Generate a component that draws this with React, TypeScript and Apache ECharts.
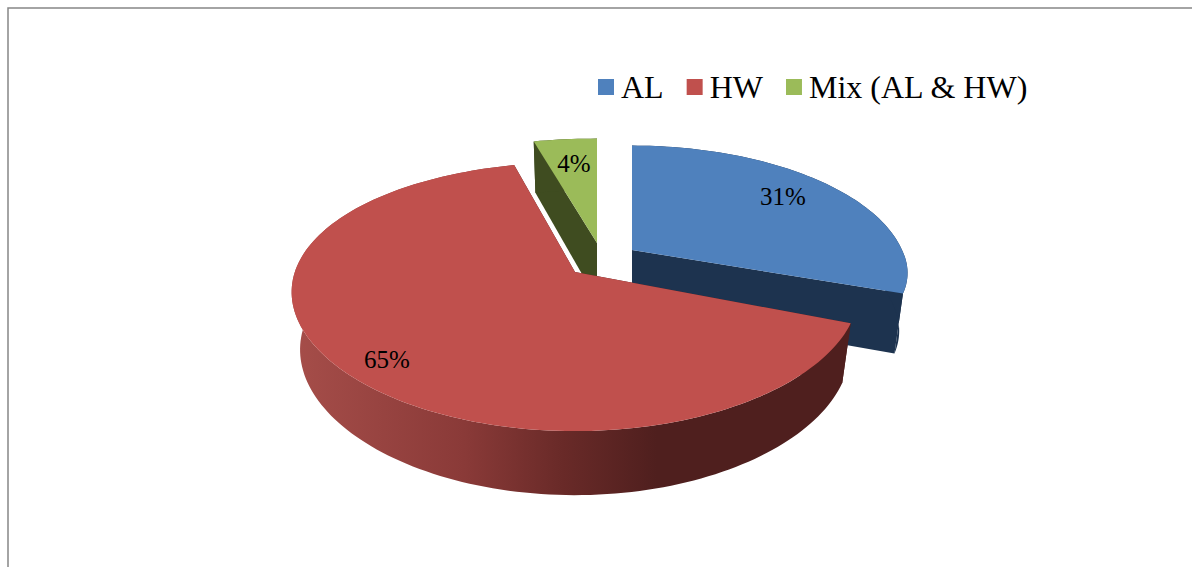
import React, { useEffect, useRef } from "react";
import * as echarts from "echarts";

const categories = ["AL", "HW", "Mix (AL & HW)"];
const shares = [31, 65, 4];
const topColors = ["#4f81bd", "#c0504d", "#9bbb59"];
const wallColors = ["#1d334f", "#4f1f1e", "#3f4c20"];
const sliceZ = [2, 3, 1];

// Where each slice's apex sits after being pulled out of the pie, and how
// its outline is squeezed on the far and near sides.
const apexX = [632, 575, 597];
const apexY = [250, 272, 243];
const flattenFar = [0.95, 1, 0.95];
const flattenNear = [0.85, 1, 1];
const widthScale = [0.954, 0.99, 1];
const perspX = [0.2, 0.15, 0.116];
const labelDx = [151, -188, -23];
const labelDy = [-54, 87, -80];

// Projection of the pie's unit disc onto the page.
const RX = 283;
const RY = 130;
const PERSP_Y = 0.183;
const DEPTH = 59;
const DEPTH_PERSP = 0.03;

const total = shares.reduce((a, b) => a + b, 0);
const startAngles = shares.map((_, i) =>
  (shares.slice(0, i).reduce((a, b) => a + b, 0) / total) * 360
);

function project(i: number, deg: number, r: number, h: number): number[] {
  const a = (deg * Math.PI) / 180;
  const X = Math.sin(a) * r;
  const Z = Math.cos(a) * r;
  const wx = 1 + perspX[i] * Z + DEPTH_PERSP * h;
  const wy = 1 + PERSP_Y * Z + DEPTH_PERSP * h;
  const zTerm = Z > 0 ? flattenFar[i] : flattenNear[i];
  return [
    apexX[i] + (RX * widthScale[i] * X) / wx,
    apexY[i] + (-RY * zTerm * Z + DEPTH * h) / wy,
  ];
}

function arc(i: number, from: number, to: number, h: number): number[][] {
  const n = Math.max(4, Math.ceil(Math.abs(to - from) / 1.5));
  const pts: number[][] = [];
  for (let k = 0; k <= n; k++) pts.push(project(i, from + ((to - from) * k) / n, 1, h));
  return pts;
}

function wallFill(i: number): any {
  if (i !== 1) return wallColors[i];
  return {
    type: "linear",
    global: true,
    x: 298,
    y: 0,
    x2: 850,
    y2: 0,
    colorStops: [
      { offset: 0, color: "#a54d49" },
      { offset: 0.3, color: "#8a3a38" },
      { offset: 0.48, color: "#692a28" },
      { offset: 0.65, color: "#4f1f1e" },
      { offset: 1, color: "#4f1f1e" },
    ],
  };
}

function renderSlice(i: number, api: any) {
  const share = api.value(0);
  const from = startAngles[i];
  const to = from + (share / total) * 360;
  const apexTop = project(i, 0, 0, 0);
  const apexBase = project(i, 0, 0, 1);
  const polygon = (points: number[][], fill: any) => ({
    type: "polygon",
    shape: { points },
    style: { fill },
    silent: true,
  });
  const face = (deg: number) =>
    polygon([apexTop, project(i, deg, 1, 0), project(i, deg, 1, 1), apexBase], wallColors[i]);
  const children: any[] = [
    face(from),
    face(to),
    polygon([...arc(i, from, to, 0), ...arc(i, to, from, 1)], wallFill(i)),
    polygon([apexTop, ...arc(i, from, to, 0)], topColors[i]),
    {
      type: "text",
      silent: true,
      style: {
        text: `${share}%`,
        x: apexTop[0] + labelDx[i],
        y: apexTop[1] + labelDy[i],
        fill: "#000",
        font: '25px "Liberation Serif"',
        align: "center",
        verticalAlign: "middle",
      },
    },
  ];
  return { type: "group", children };
}

export default function App() {
  const ref = useRef<HTMLDivElement>(null);
  useEffect(() => {
    document.body.style.margin = "0";
    const chart = echarts.init(ref.current!, undefined, { renderer: "svg" });
    chart.setOption({
      animation: false,
      backgroundColor: "#fff",
      legend: {
        data: categories,
        left: 593,
        top: 66,
        icon: "rect",
        itemWidth: 16,
        itemHeight: 16,
        itemGap: 23,
        textStyle: {
          fontFamily: "Liberation Serif",
          fontSize: 32,
          color: "#000",
          padding: [0, 0, 0, 2],
        },
      },
      graphic: [
        {
          type: "polyline",
          shape: { points: [[8, 567], [8, 8], [1192, 8]] },
          style: { stroke: "#868686", lineWidth: 1.5, fill: "none" },
          silent: true,
        },
      ],
      series: categories.map((name, i) => ({
        type: "custom",
        name,
        coordinateSystem: "none",
        z: sliceZ[i],
        itemStyle: { color: topColors[i] },
        data: [shares[i]],
        renderItem: (_: any, api: any) => renderSlice(i, api),
      })),
    });
    return () => chart.dispose();
  }, []);
  return <div ref={ref} style={{ width: 1192, height: 567 }} />;
}
